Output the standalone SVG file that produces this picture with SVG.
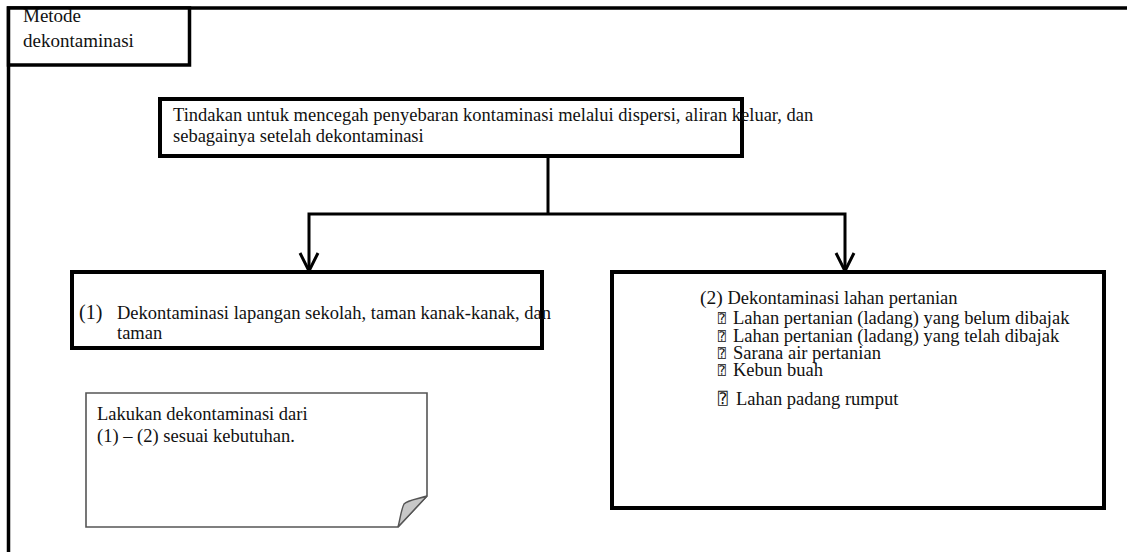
<svg xmlns="http://www.w3.org/2000/svg" width="1127" height="552" viewBox="0 0 1127 552">
<style>
.t{font-family:"Liberation Serif","Times New Roman",serif;font-size:18.5px;fill:#111}
.box{fill:#fff;stroke:#000;stroke-width:4}
.con{fill:none;stroke:#000;stroke-width:3;stroke-linejoin:miter}
.g{font-family:"DejaVu Sans Mono","DejaVu Sans",sans-serif;font-size:13px;fill:#111}
</style>
<defs>
<marker id="arr" markerWidth="22" markerHeight="22" refX="19" refY="11" orient="auto-start-reverse" markerUnits="userSpaceOnUse" viewBox="0 0 22 22">
<path d="M1,2 L19,11 L1,20" fill="none" stroke="#000" stroke-width="3"/>
</marker>
</defs>
<rect width="1127" height="552" fill="#fff"/>
<g id="frame">
<path d="M8.5,552 V8 H1127" fill="none" stroke="#000" stroke-width="3.5"/>
</g>
<g id="label">
<rect x="8.5" y="8" width="181" height="57" fill="#fff" stroke="#000" stroke-width="3.5"/>
<text class="t" x="23" y="22" style="font-size:19px">Metode</text>
<text class="t" x="23" y="47" style="font-size:19px">dekontaminasi</text>
</g>
<g id="connectors">
<path class="con" d="M548,156 V214"/>
<path class="con" d="M309,271 V214 H845 V271" marker-start="url(#arr)" marker-end="url(#arr)"/>
</g>
<g id="top">
<rect class="box" x="160" y="99" width="582" height="57"/>
<text class="t" x="173" y="121">Tindakan untuk mencegah penyebaran kontaminasi melalui dispersi, aliran keluar, dan</text>
<text class="t" x="173" y="142">sebagainya setelah dekontaminasi</text>
</g>
<g id="box1">
<rect class="box" x="72" y="272" width="470" height="76"/>
<text class="t" x="79" y="319" style="font-size:20px">(1)</text>
<text class="t" x="117" y="319">Dekontaminasi lapangan sekolah, taman kanak-kanak, dan</text>
<text class="t" x="117" y="339">taman</text>
</g>
<g id="box2">
<rect class="box" x="612" y="272" width="492" height="236"/>
<text class="t" x="700" y="304"><tspan style="font-size:19.5px">(2)</tspan> Dekontaminasi lahan pertanian</text>
<text class="g" x="718" y="323">⍰</text><text class="t" x="733" y="324">Lahan pertanian (ladang) yang belum dibajak</text>
<text class="g" x="718" y="341">⍰</text><text class="t" x="733" y="342">Lahan pertanian (ladang) yang telah dibajak</text>
<text class="g" x="718" y="358">⍰</text><text class="t" x="733" y="359">Sarana air pertanian</text>
<text class="g" x="718" y="375">⍰</text><text class="t" x="733" y="376">Kebun buah</text>
<text class="g" x="718" y="404" style="font-size:16px">⍰</text><text class="t" x="736" y="405">Lahan padang rumput</text>
</g>
<g id="note">
<path d="M86,393 H427 V496 L398,527 H86 Z" fill="#fff" stroke="#555" stroke-width="1.6"/>
<path d="M427,496 C418,499 408,500 404,504 C401,510 400,520 398,527 Z" fill="#c8c8c8" stroke="#555" stroke-width="1.4"/>
<text class="t" x="97" y="420">Lakukan dekontaminasi dari</text>
<text class="t" x="97" y="442">(1) – (2) sesuai kebutuhan.</text>
</g>
</svg>
